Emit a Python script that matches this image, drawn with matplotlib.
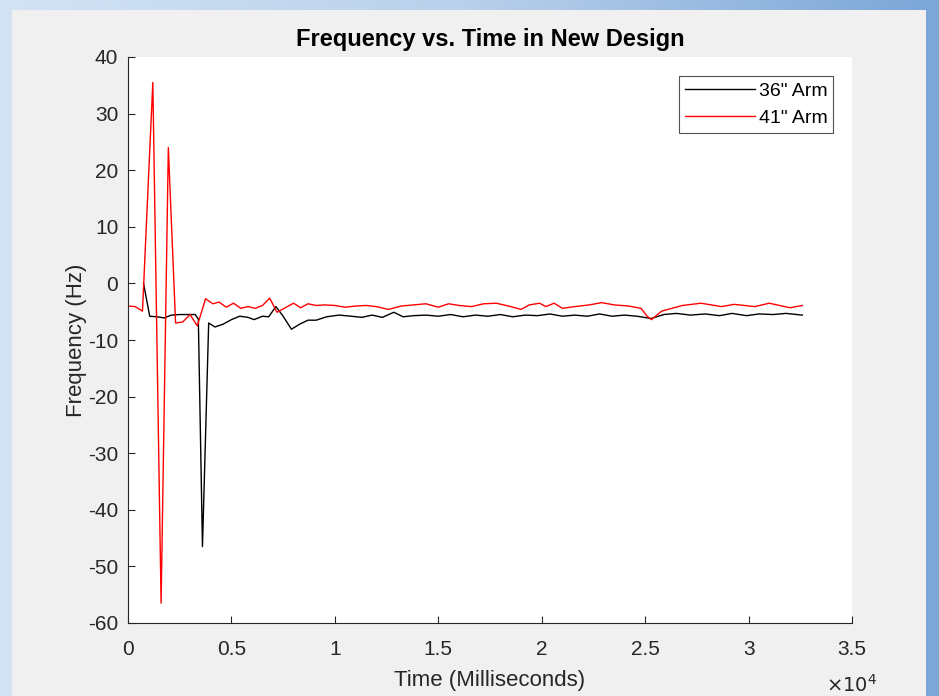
import numpy as np
import matplotlib.pyplot as plt
from matplotlib.patches import Rectangle
from matplotlib.colors import LinearSegmentedColormap

plt.rcParams['font.family'] = ['Liberation Sans', 'DejaVu Sans']
plt.rcParams['axes.unicode_minus'] = False

# 41" arm (red)
t_41 = [0, 350, 700, 1200, 1600, 1950, 2300, 2650, 3000, 3350, 3750, 4100,
        4400, 4750, 5100, 5450, 5800, 6150, 6500, 6850, 7200, 7600, 8000,
        8350, 8700, 9100, 9500, 10000, 10500, 11000, 11500, 12000, 12600,
        13200, 13800, 14400, 15000, 15500, 16000, 16600, 17200, 17800, 18400,
        19000, 19400, 19900, 20200, 20600, 21000, 21600, 22300, 22900, 23500,
        24200, 24800, 25100, 25300, 25800, 26800, 27700, 28700, 29300, 30300,
        31000, 32000, 32600]
f_41 = [-4.0, -4.1, -4.9, 35.5, -56.5, 24.0, -7.0, -6.8, -5.5, -7.5, -2.7, -3.6,
        -3.3, -4.2, -3.5, -4.4, -4.1, -4.4, -3.9, -2.6, -5.1, -4.3, -3.5,
        -4.3, -3.6, -3.9, -3.8, -3.9, -4.2, -4.0, -3.9, -4.1, -4.6,
        -4.0, -3.8, -3.6, -4.2, -3.6, -3.9, -4.1, -3.6, -3.5, -4.0,
        -4.6, -3.8, -3.5, -4.1, -3.5, -4.4, -4.1, -3.8, -3.4, -3.8,
        -4.0, -4.4, -5.8, -6.4, -4.9, -3.9, -3.5, -4.1, -3.7, -4.1,
        -3.5, -4.3, -3.9]

# 36" arm (black)
t_36 = [750, 1050, 1400, 1750, 2100, 2500, 2900, 3250, 3400, 3600, 3900, 4200,
        4600, 5000, 5400, 5800, 6100, 6500, 6800, 7150, 7500, 7900, 8300, 8700,
        9100, 9600, 10200, 10800, 11300, 11800, 12300, 12850, 13300, 13800,
        14400, 15000, 15600, 16200, 16800, 17400, 18000, 18600, 19200, 19800,
        20400, 21000, 21600, 22200, 22800, 23400, 24000, 24600, 25300, 25900,
        26500, 27200, 27900, 28600, 29200, 29900, 30500, 31200, 31800, 32600]
f_36 = [0.0, -5.8, -5.9, -6.1, -5.6, -5.5, -5.5, -5.5, -6.3, -46.5, -7.0, -7.7,
        -7.2, -6.4, -5.8, -6.0, -6.4, -5.8, -5.9, -4.1, -5.8, -8.1, -7.2, -6.5,
        -6.5, -5.9, -5.6, -5.8, -6.0, -5.6, -6.0, -5.1, -5.9, -5.7,
        -5.6, -5.8, -5.5, -5.9, -5.6, -5.8, -5.5, -5.9, -5.6, -5.7,
        -5.4, -5.8, -5.6, -5.8, -5.4, -5.8, -5.6, -5.8, -6.2, -5.5,
        -5.3, -5.6, -5.4, -5.7, -5.3, -5.7, -5.4, -5.5, -5.3, -5.6]

x_ticks = [0, 5000, 10000, 15000, 20000, 25000, 30000, 35000]
x_labels = ['0', '0.5', '1', '1.5', '2', '2.5', '3', '3.5']
y_ticks = [40, 30, 20, 10, 0, -10, -20, -30, -40, -50, -60]

fig = plt.figure(figsize=(9.39, 6.96), dpi=100)

# blue gradient frame behind the grey panel
bg = fig.add_axes([0, 0, 1, 1], zorder=-10)
grad = np.linspace(0, 1, 256).reshape(1, -1)
cmap = LinearSegmentedColormap.from_list('frame', ['#d3e3f4', '#b9d0eb', '#7ba6d7'])
bg.imshow(grad, aspect='auto', cmap=cmap, extent=[0, 1, 0, 1])
bg.add_patch(Rectangle((12 / 939, 0), (926 - 12) / 939, 1 - 10 / 696,
                       facecolor='#f0f0f0', edgecolor='none'))
bg.set_xlim(0, 1)
bg.set_ylim(0, 1)
bg.axis('off')

ax = fig.add_axes([128 / 939, 1 - 623 / 696, (852 - 128) / 939, (623 - 57) / 696])
ax.set_facecolor('white')

ax.plot(t_36, f_36, color='black', lw=1.0, label='36" Arm')
ax.plot(t_41, f_41, color='#ff0000', lw=1.0, label='41" Arm')

ax.set_xlim(0, 35000)
ax.set_ylim(-60, 40)
ax.set_xticks(x_ticks)
ax.set_xticklabels(x_labels)
ax.set_yticks(y_ticks)
ax.tick_params(direction='in', length=5, width=0.8, colors='#262626',
               labelsize=15)
ax.tick_params(axis='x', pad=12.5)
ax.tick_params(axis='y', pad=7)
for s in ['top', 'right']:
    ax.spines[s].set_visible(False)
for s in ['left', 'bottom']:
    ax.spines[s].set_color('#262626')
    ax.spines[s].set_linewidth(0.8)

ax.set_title('Frequency vs. Time in New Design', fontsize=17,
             fontweight='bold', pad=8)
ax.set_xlabel('Time (Milliseconds)', fontsize=16, color='#262626', labelpad=8)
ax.set_ylabel('Frequency (Hz)', fontsize=16, color='#262626', labelpad=0.5)
ax.text(1.0, -0.11, r'$\times10^{4}$', transform=ax.transAxes, ha='center',
        va='center', fontsize=14, color='#262626')

leg = ax.legend(loc='upper right', bbox_to_anchor=(0.974, 0.966), fontsize=14,
                frameon=True, fancybox=False, handlelength=3.6,
                handletextpad=0.2, borderpad=0.3, labelspacing=0.5,
                borderaxespad=0)
leg.get_frame().set_edgecolor('#262626')
leg.get_frame().set_linewidth(0.8)

fig.savefig('out.png', dpi=100)
